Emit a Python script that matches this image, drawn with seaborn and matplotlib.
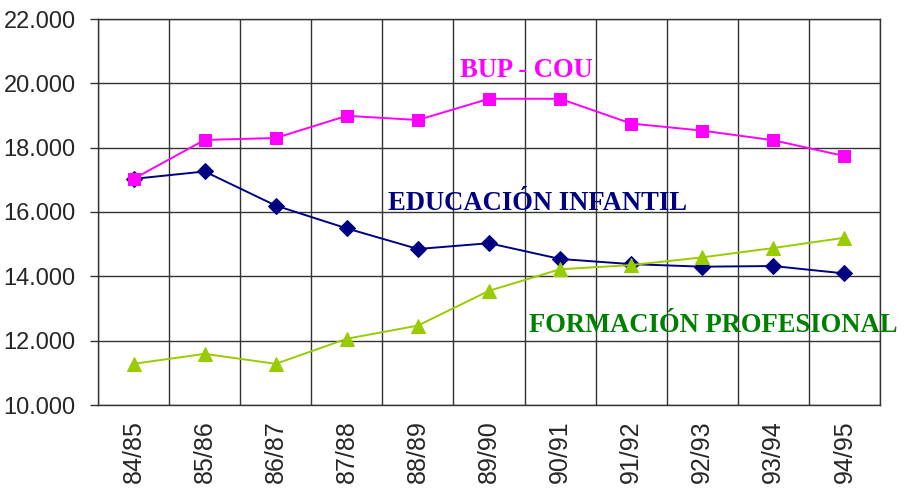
import matplotlib
matplotlib.use("Agg")
import matplotlib.pyplot as plt
import matplotlib.ticker as mticker
import seaborn as sns
import pandas as pd

cursos = ["84/85", "85/86", "86/87", "87/88", "88/89", "89/90",
          "90/91", "91/92", "92/93", "93/94", "94/95"]
bup_cou = [17030, 18240, 18300, 18990, 18860, 19520, 19520, 18750, 18530, 18230, 17740]
educacion_infantil = [17030, 17260, 16200, 15490, 14850, 15030, 14540, 14380, 14300, 14320, 14090]
formacion_profesional = [11280, 11590, 11280, 12060, 12470, 13550, 14220, 14350, 14590, 14880, 15200]

series = ["EDUCACIÓN INFANTIL", "FORMACIÓN PROFESIONAL", "BUP - COU"]
colores = {"BUP - COU": "#FF00FF", "EDUCACIÓN INFANTIL": "#000080",
           "FORMACIÓN PROFESIONAL": "#99CC00"}
marcadores = {"BUP - COU": "s", "EDUCACIÓN INFANTIL": "D",
              "FORMACIÓN PROFESIONAL": "^"}
tamanos = {"BUP - COU": 9, "EDUCACIÓN INFANTIL": 8, "FORMACIÓN PROFESIONAL": 10}
textos_color = {"BUP - COU": "#FF00FF", "EDUCACIÓN INFANTIL": "#000080",
                "FORMACIÓN PROFESIONAL": "#008000"}

df = pd.DataFrame({
    "curso": cursos * 3,
    "valor": educacion_infantil + formacion_profesional + bup_cou,
    "serie": [series[0]] * 11 + [series[1]] * 11 + [series[2]] * 11,
})

sns.set_style("white")
plt.rcParams["font.family"] = ["Liberation Sans", "DejaVu Sans"]

fig = plt.figure(figsize=(9.09, 4.88), dpi=100)
ax = fig.add_axes([98 / 909, 1 - 405 / 488, 782 / 909, 386 / 488])

for s in series:
    sub = df[df["serie"] == s]
    sns.lineplot(data=sub, x="curso", y="valor", ax=ax, color=colores[s],
                 marker=marcadores[s], markersize=tamanos[s],
                 markeredgecolor=colores[s], linewidth=1.4, sort=False,
                 legend=False)

ax.set_xlim(-0.5, 10.5)
ax.set_ylim(10000, 22000)
ax.set_xlabel("")
ax.set_ylabel("")

ax.set_xticks(range(len(cursos)))
ax.set_xticklabels(cursos, rotation=90, fontsize=18)
ax.set_xticks([i - 0.5 for i in range(len(cursos) + 1)], minor=True)
ax.tick_params(axis="x", which="major", length=0, pad=11)
ax.tick_params(axis="x", which="minor", length=6, width=1, color="#333333", direction="out")
ax.set_yticks(range(10000, 22001, 2000))
ax.yaxis.set_major_formatter(mticker.FuncFormatter(lambda v, p: f"{int(v):,}".replace(",", ".")))
ax.tick_params(axis="y", length=6, width=1, color="#333333", direction="out",
               labelsize=17, left=True, pad=10)

ax.grid(False)
ax.grid(True, axis="y", which="major", color="#333333", linewidth=1)
ax.grid(True, axis="x", which="minor", color="#333333", linewidth=1)
for sp in ax.spines.values():
    sp.set_color("#333333")
    sp.set_linewidth(1)
ax.set_axisbelow(True)

etiquetas = [("BUP - COU", 526, 77), ("EDUCACIÓN INFANTIL", 537, 210),
             ("FORMACIÓN PROFESIONAL", 713, 332)]
for s, px, py in etiquetas:
    fig.text(px / 909, 1 - py / 488, s, color=textos_color[s], fontsize=19.2,
             fontweight="bold", family=["Liberation Serif", "DejaVu Serif"],
             ha="center", va="baseline")

fig.savefig("out.png", dpi=100)
